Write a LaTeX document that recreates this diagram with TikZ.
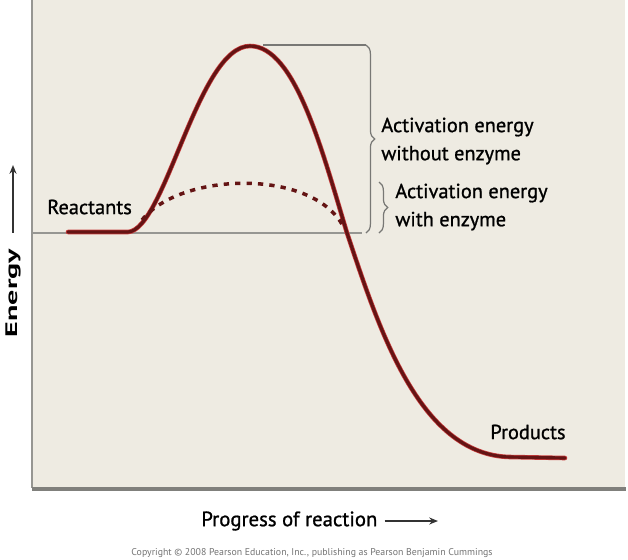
\documentclass[tikz,border=0pt]{standalone}
\usepackage{fontspec}
\setmainfont{PT Sans}
\newfontfamily\condfont{PT Sans}[FakeBold=1.0]
\newfontfamily\widefont{PT Sans}[FakeStretch=1.8]
\usetikzlibrary{decorations.pathreplacing,arrows.meta}
\definecolor{panel}{RGB}{238,235,226}
\definecolor{maroon}{RGB}{100,20,20}
\definecolor{halo}{RGB}{200,60,60}
\definecolor{rim}{RGB}{150,150,146}
\tikzset{
  lbl/.style={font=\condfont\fontsize{11.6}{16}\selectfont, inner sep=0pt, align=left},
  brc/.style={draw=rim!80!black, line width=0.7pt, decorate, decoration={brace, amplitude=5pt}},
  axarrow/.style={draw=black!80, line width=1.2pt, -{Stealth[length=5pt,width=4pt]}},
}
\begin{document}
\begin{tikzpicture}[x=0.02cm,y=-0.02cm]
\useasboundingbox (0,0) rectangle (628,559);
% panel
\fill[panel] (32,0) rectangle (625,488);
\draw[rim, line width=0.8pt] (32,0) -- (32,488);
\draw[rim!85!black, line width=2.2pt] (32,489) -- (626,489);
\path
(33,233) coordinate (L0)
(362,233) coordinate (L1)
(68,232) coordinate (A)
(128,232) coordinate (B)
(250,46) coordinate (P)
(347,233) coordinate (X)
(565,458) coordinate (E)
(263,45) coordinate (T0)
(366,45) coordinate (T1)
(371,182) coordinate (W0)
(379,182) coordinate (W1)
(379,233) coordinate (W2);
% reactant level
\draw[rim, line width=1.3pt] (L0) -- (L1);
% curve without enzyme
\foreach \c/\w in {halo/2.6pt,maroon/1.8pt}
\draw[\c, line width=\w, line cap=round] (A) -- (B)
  .. controls (165,230) and (198,46) .. (P)
  .. controls (295,46) and (322,150) .. (X)
  .. controls (378,325) and (418,455) .. (510,457) -- (E);
% curve with enzyme
\draw[maroon, line width=2pt, dash pattern=on 3pt off 3.5pt]
  (142,220) .. controls (180,172) and (312,168) .. (343,226);
% braces
\draw[rim!80!black, line width=1pt] (T0) -- (T1);
\draw[brc] (T1) -- (366,233);
\draw[brc] (W1) -- (W2);
% labels
\node[lbl, anchor=west] (react) at (47,207) {Reactants};
\node[lbl, anchor=west] (prod) at (490,432) {Products};
\node[lbl, anchor=west] (noenz) at (381,141) {Activation energy\\without enzyme};
\node[lbl, anchor=west] (enz) at (395,207) {Activation energy\\with enzyme};
\node[font=\condfont\fontsize{11.8}{16}\selectfont, inner sep=0pt, anchor=west] (prog) at (201,521) {Progress of reaction};
\coordinate (progEnd) at (438,521);
\draw[axarrow, shorten <=4pt] (prog.east) -- (progEnd);
\node[font=\widefont\bfseries\fontsize{9.5}{12}\selectfont, inner sep=0pt, rotate=90] (energy) at (13,293) {Energy};
\coordinate (energyTip) at (13,165);
\draw[axarrow, shorten <=9pt] (energy.east) -- (energyTip);
\node[font=\fontsize{5.6}{6}\selectfont, text=black!55, inner sep=0pt] (copy) at (312,553) {Copyright \textcopyright{} 2008 Pearson Education, Inc., publishing as Pearson Benjamin Cummings};
\end{tikzpicture}
\end{document}
